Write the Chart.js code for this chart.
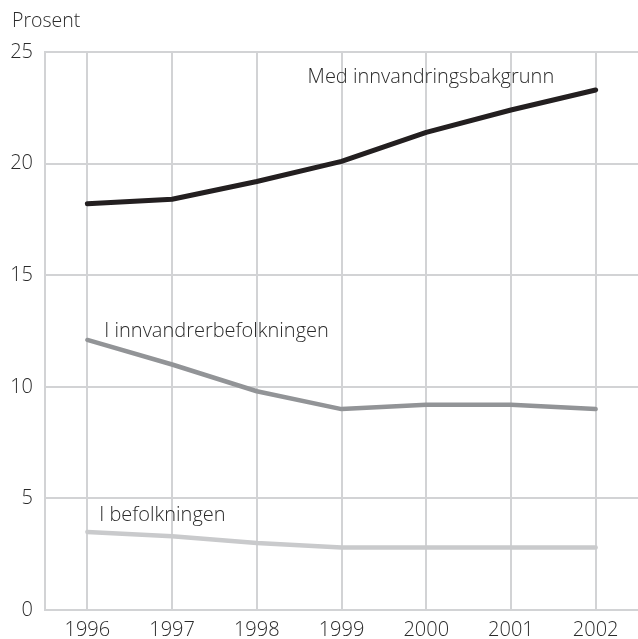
<!DOCTYPE html>
<html>
<head>
<meta charset="utf-8">
<script src="https://cdn.jsdelivr.net/npm/chart.js@4.4.1/dist/chart.umd.min.js"></script>
<style>
  html, body { margin: 0; padding: 0; background: #fff; }
  #wrap { width: 638px; height: 639px; position: relative; }
</style>
</head>
<body>
<div id="wrap"><canvas id="chart"></canvas></div>
<script>
// data
const years = ["1996", "1997", "1998", "1999", "2000", "2001", "2002"];
const medBakgrunn = [18.2, 18.4, 19.2, 20.1, 21.4, 22.4, 23.3];
const innvandrerbef = [12.1, 11.0, 9.8, 9.0, 9.2, 9.2, 9.0];
const befolkningen = [3.5, 3.3, 3.0, 2.8, 2.8, 2.8, 2.8];
const yTicks = [0, 5, 10, 15, 20, 25];

const FONT = "'Open Sans', 'Noto Sans', sans-serif";
const TEXT = "#2b2b2b";
const GRID = "#d2d3d5";

// line labels, anchored to data positions (category index, value)
const lineLabels = [
  { text: "Med innvandringsbakgrunn", at: 2.6, val: 23.85 },
  { text: "I innvandrerbefolkningen", at: 0.2, val: 12.5 },
  { text: "I befolkningen", at: 0.14, val: 4.25 }
];

const labelPlugin = {
  id: "labels",
  afterDraw(chart) {
    const ctx = chart.ctx;
    const xs = chart.scales.x, ys = chart.scales.y;
    ctx.save();
    ctx.fillStyle = TEXT;
    ctx.font = "300 20px " + FONT;
    ctx.textBaseline = "middle";
    ctx.textAlign = "left";
    lineLabels.forEach(l => {
      const x0 = xs.getPixelForValue(Math.floor(l.at));
      const x1 = xs.getPixelForValue(Math.floor(l.at) + 1);
      const x = x0 + (x1 - x0) * (l.at - Math.floor(l.at));
      ctx.fillText(l.text, x, ys.getPixelForValue(l.val));
    });
    ctx.font = "300 19.5px " + FONT;
    ctx.fillText("Prosent", 12, 21);
    ctx.restore();
  }
};

new Chart(document.getElementById("chart"), {
  type: "line",
  data: {
    labels: years,
    datasets: [
      { data: medBakgrunn, borderColor: "#231f20", borderWidth: 5 },
      { data: innvandrerbef, borderColor: "#929497", borderWidth: 4.5 },
      { data: befolkningen, borderColor: "#c9cacc", borderWidth: 4.5 }
    ]
  },
  options: {
    responsive: true,
    maintainAspectRatio: false,
    animation: false,
    layout: { padding: { top: 52, right: 0, bottom: 0, left: 0 } },
    elements: {
      point: { radius: 0 },
      line: { tension: 0, borderCapStyle: "round", borderJoinStyle: "round" }
    },
    plugins: { legend: { display: false }, tooltip: { enabled: false } },
    scales: {
      x: {
        offset: true,
        grid: { offset: false, color: GRID, lineWidth: 2, drawTicks: false },
        border: { display: false },
        ticks: { color: TEXT, font: { family: FONT, size: 20, weight: 300 }, padding: 8, maxRotation: 0 },
        afterFit(s) { s.height = 29; }
      },
      y: {
        min: 0, max: 25,
        afterBuildTicks(s) { s.ticks = yTicks.map(v => ({ value: v })); },
        grid: { color: GRID, lineWidth: 2, drawTicks: false },
        border: { color: GRID, width: 2 },
        ticks: { color: TEXT, font: { family: FONT, size: 20, weight: 300 }, padding: 12 },
        afterFit(s) { s.width = 45; }
      }
    }
  },
  plugins: [labelPlugin]
});
</script>
</body>
</html>
